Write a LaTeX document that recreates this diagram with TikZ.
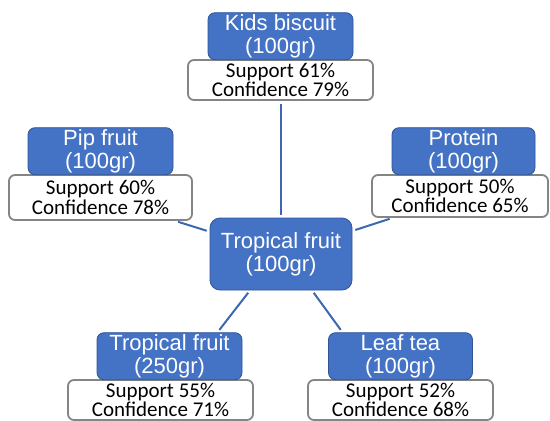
\documentclass[tikz,border=0pt]{standalone}
\usepackage{fontspec}
\setmainfont{Liberation Sans}
\newfontfamily\statfont{Carlito}
\usetikzlibrary{positioning}

\definecolor{itemblue}{HTML}{4472C4}
\definecolor{itemedge}{HTML}{2F5597}
\definecolor{statedge}{HTML}{858585}

\tikzset{
  item/.style={fill=itemblue, draw=itemedge, line width=0.8pt, rounded corners=7pt,
    text=white, align=center, minimum width=145pt, minimum height=47pt,
    inner sep=0pt, font=\fontsize{22}{23}\selectfont},
  stat/.style={fill=white, draw=statedge, line width=1.8pt, rounded corners=6pt,
    align=center, minimum width=185pt, minimum height=40pt, inner sep=0pt,
    font=\statfont\fontsize{21}{19.5}\selectfont},
  link/.style={draw=itemblue!90!black, line width=2pt, shorten <=3pt, shorten >=3pt},
}

\begin{document}
\begin{tikzpicture}[x=1pt,y=-1pt]
  \useasboundingbox (0,0) rectangle (550,421);

  \node [item, minimum width=142pt, minimum height=72pt, rounded corners=10pt] (trop) at (281,254) {Tropical fruit\\(100gr)};

  %%

  \node [stat] (kidsst) at (280.5,80) {Support 61\%\\Confidence 79\%};
  \node [item, above=-1pt of kidsst] (kids) {Kids biscuit\\(100gr)};

  \node [stat, minimum width=183pt, minimum height=45pt] (pipst) at (100.5,197.5) {Support 60\%\\Confidence 78\%};
  \node [item, above=-1pt of pipst] (pip) {Pip fruit\\(100gr)};

  \node [stat, minimum width=176pt, minimum height=42pt] (protst) at (460,196) {Support 50\%\\Confidence 65\%};
  \node [item, minimum width=143pt, above=-1pt of protst, xshift=3.5pt] (prot) {Protein\\(100gr)};

  %%

  \node [stat] (tropst) at (160.5,400) {Support 55\%\\Confidence 71\%};
  \node [item, above=-1pt of tropst, xshift=9pt] (trophigh) {Tropical fruit\\(250gr)};

  \node [stat] (leafst) at (400.5,400) {Support 52\%\\Confidence 68\%};
  \node [item, minimum width=144pt, above=-1pt of leafst] (leaf) {Leaf tea\\(100gr)};

  %%

  \draw [link] (trop.north -| kidsst.south) -- (kidsst.south);
  \draw [link] (trop) -- (pipst);
  \draw [link] (trop) -- (protst);
  \draw [link] ([xshift=-31pt]trop.south) -- ([xshift=48pt]trophigh.north);
  \draw [link] ([xshift=31pt]trop.south) -- ([xshift=-58pt]leaf.north);

\end{tikzpicture}
\end{document}
